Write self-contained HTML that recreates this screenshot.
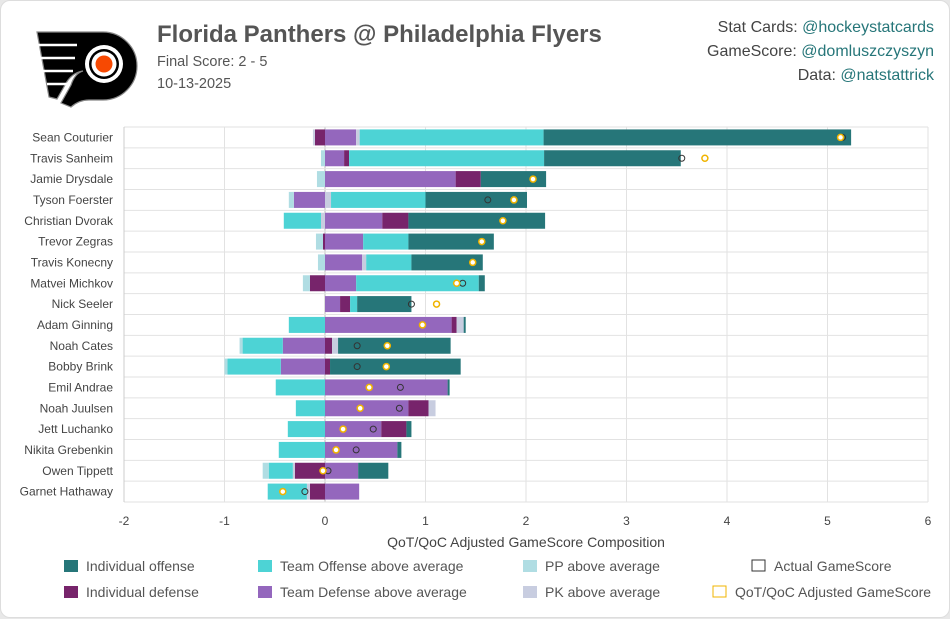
<!DOCTYPE html>
<html><head><meta charset="utf-8">
<style>
html,body{margin:0;padding:0;background:#e8e8e8;}
body{width:950px;height:618px;overflow:hidden;font-family:"Liberation Sans",sans-serif;}
#card{position:absolute;left:0;top:0;width:948px;height:616px;background:#fff;border:1px solid #ddd;border-radius:10px;}
.t{position:absolute;color:#555;white-space:nowrap;}
.r{text-align:right;right:15px;font-size:16px;color:#444;}
.r span{color:#267679;}
</style></head><body>
<div id="card">
<svg width="120" height="90" style="position:absolute;left:30px;top:22px">
 <path d="M6 9 H72 A34 34 0 0 1 72 77 H58 Q48 77 40 84 L30 80 L40 62 Q44 50 52 48 Q40 50 34 62 L26 76 L18 74 Z" fill="#000" stroke="#888" stroke-width="1.2"/>
 <path d="M4 22 H46 M8 35 H44 M12 48 H42 M16 61 H36" stroke="#fff" stroke-width="2.5" fill="none"/>
 <circle cx="73" cy="41" r="19" fill="#fff"/>
 <circle cx="73" cy="41" r="15" fill="#000"/>
 <circle cx="73" cy="41" r="12.5" fill="#fff"/>
 <circle cx="73" cy="41" r="8.5" fill="#f74902"/>
</svg>
<div class="t" style="left:156px;top:20px;font-size:24px;font-weight:bold">Florida Panthers @ Philadelphia Flyers</div>
<div class="t" style="left:156px;top:53px;font-size:14.5px">Final Score: 2 - 5</div>
<div class="t" style="left:156px;top:75px;font-size:14.5px">10-13-2025</div>
<div class="t r" style="top:18px">Stat Cards: <span>@hockeystatcards</span></div>
<div class="t r" style="top:42px">GameScore: <span>@domluszczyszyn</span></div>
<div class="t r" style="top:66px">Data: <span>@natstattrick</span></div>
<svg id="chart" width="950" height="618" style="position:absolute;left:0;top:0"></svg>
</div>
<script>
const players=["Sean Couturier","Travis Sanheim","Jamie Drysdale","Tyson Foerster","Christian Dvorak","Trevor Zegras","Travis Konecny","Matvei Michkov","Nick Seeler","Adam Ginning","Noah Cates","Bobby Brink","Emil Andrae","Noah Juulsen","Jett Luchanko","Nikita Grebenkin","Owen Tippett","Garnet Hathaway"];
// components in stacking order: teamDef, indDef, pk, teamOff, pp, indOff
const teamDef=[0.31,0.19,1.30,-0.31,0.57,0.38,0.37,0.31,0.15,1.26,-0.42,-0.44,1.22,0.83,0.56,0.72,0.33,0.34];
const indDef=[-0.10,0.05,0.25,0,0.26,-0.02,0,-0.15,0.10,0.05,0.07,0.05,0,0.20,0.25,0,-0.30,-0.15];
const pk=[0.035,0,0,0.06,-0.04,0,0.04,0,0,0.07,0.06,0,0,0.07,0,0,-0.02,-0.03];
const pkNeg=[-0.02,0,0,0,0,0,0,0,0,0,0,0,0,0,0,0,0,0];
const teamOff=[1.83,1.94,0,0.94,-0.37,0.45,0.45,1.22,0.07,-0.36,-0.40,-0.53,-0.49,-0.29,-0.37,-0.46,-0.24,-0.39];
const pp=[0,-0.04,-0.08,-0.05,0,-0.07,-0.07,-0.07,0,0,-0.03,-0.03,0,0,0,0,-0.06,0];
const indOff=[3.06,1.36,0.65,1.01,1.36,0.85,0.71,0.06,0.54,0.02,1.12,1.30,0.02,0,0.05,0.04,0.30,0];
const actualGS=[5.15,3.55,2.07,1.62,1.77,1.56,1.47,1.37,0.86,0.97,0.32,0.32,0.75,0.74,0.48,0.31,0.03,-0.20];
const adjGS=[5.13,3.78,2.07,1.88,1.77,1.56,1.47,1.31,1.11,0.97,0.62,0.61,0.44,0.35,0.18,0.11,-0.02,-0.42];
const xTicks=[-2,-1,0,1,2,3,4,5,6];
const svg=document.getElementById('chart');
const NS='http://www.w3.org/2000/svg';
const L=123,R=927,T=126,B=501;
const xs=v=>L+(v+2)/8*(R-L);
const rowH=(B-T)/players.length;
const ys=i=>T+rowH*(i+0.5);
function mk(tag,a){const e=document.createElementNS(NS,tag);for(const k in a)e.setAttribute(k,a[k]);svg.appendChild(e);return e;}
for(const t of xTicks){const g=mk('line',{x1:xs(t),x2:xs(t),y1:T,y2:B,stroke:t===0?'#bbb':'#e2e2e2','stroke-width':1});


const tx=mk('text',{x:xs(t),y:B+23,'text-anchor':'middle','font-size':12,fill:'#444'});tx.textContent=t;

}
for(let i=0;i<=players.length;i++){const g=mk('line',{x1:L,x2:R,y1:T+rowH*i,y2:T+rowH*i,stroke:'#e2e2e2'});

}
mk('line',{x1:L,x2:L,y1:T,y2:B,stroke:'#ccc'});
const series=[[teamDef,'#9467bd','team-defense'],[indDef,'#77246b','individual-defense'],[pk,'#c8cde0','pk'],[pkNeg,'#c8cde0','pk'],[teamOff,'#4dd3d5','team-offense'],[pp,'#b0dde3','pp'],[indOff,'#267679','individual-offense']];
players.forEach((p,i)=>{
 const lab=mk('text',{x:L-11,y:ys(i)+4,'text-anchor':'end','font-size':12,fill:'#444'});lab.textContent=p;
 
 
 let pos=0,neg=0;
 for(const [arr,col,name] of series){const v=arr[i];if(!v)continue;let a,b;
  if(v>0){a=pos;b=pos+v;pos=b;}else{a=neg+v;b=neg;neg=a;}
  const r=mk('rect',{x:xs(a),y:ys(i)-8,width:xs(b)-xs(a),height:16,fill:col});
  
  }
 const c1=mk('circle',{cx:xs(actualGS[i]),cy:ys(i),r:3,fill:'none',stroke:'#333','stroke-width':1});
 
 
 const c2=mk('circle',{cx:xs(adjGS[i]),cy:ys(i),r:3,fill:'#fff',stroke:'#f0b400','stroke-width':1.5});
 
 
});
const xt=mk('text',{x:(L+R)/2,y:546,'text-anchor':'middle','font-size':14,fill:'#444'});xt.textContent='QoT/QoC Adjusted GameScore Composition';


const leg=[[63,565,'#267679','Individual offense','rect'],[257,565,'#4dd3d5','Team Offense above average','rect'],[522,565,'#b0dde3','PP above average','rect'],[751,565,'#333','Actual GameScore','box'],[63,591,'#77246b','Individual defense','rect'],[257,591,'#9467bd','Team Defense above average','rect'],[522,591,'#c8cde0','PK above average','rect'],[712,591,'#f0b400','QoT/QoC Adjusted GameScore','box']];
for(const [x,y,c,t,k] of leg){
 const r=mk('rect',k==='rect'?{x:x,y:y-6,width:14,height:12,fill:c}:{x:x,y:y-6,width:13,height:11,fill:'none',stroke:c});
 
 
 const tx=mk('text',{x:x+22,y:y+5,'font-size':14,fill:'#555'});tx.textContent=t;
 
 
}
</script>
</body></html>
